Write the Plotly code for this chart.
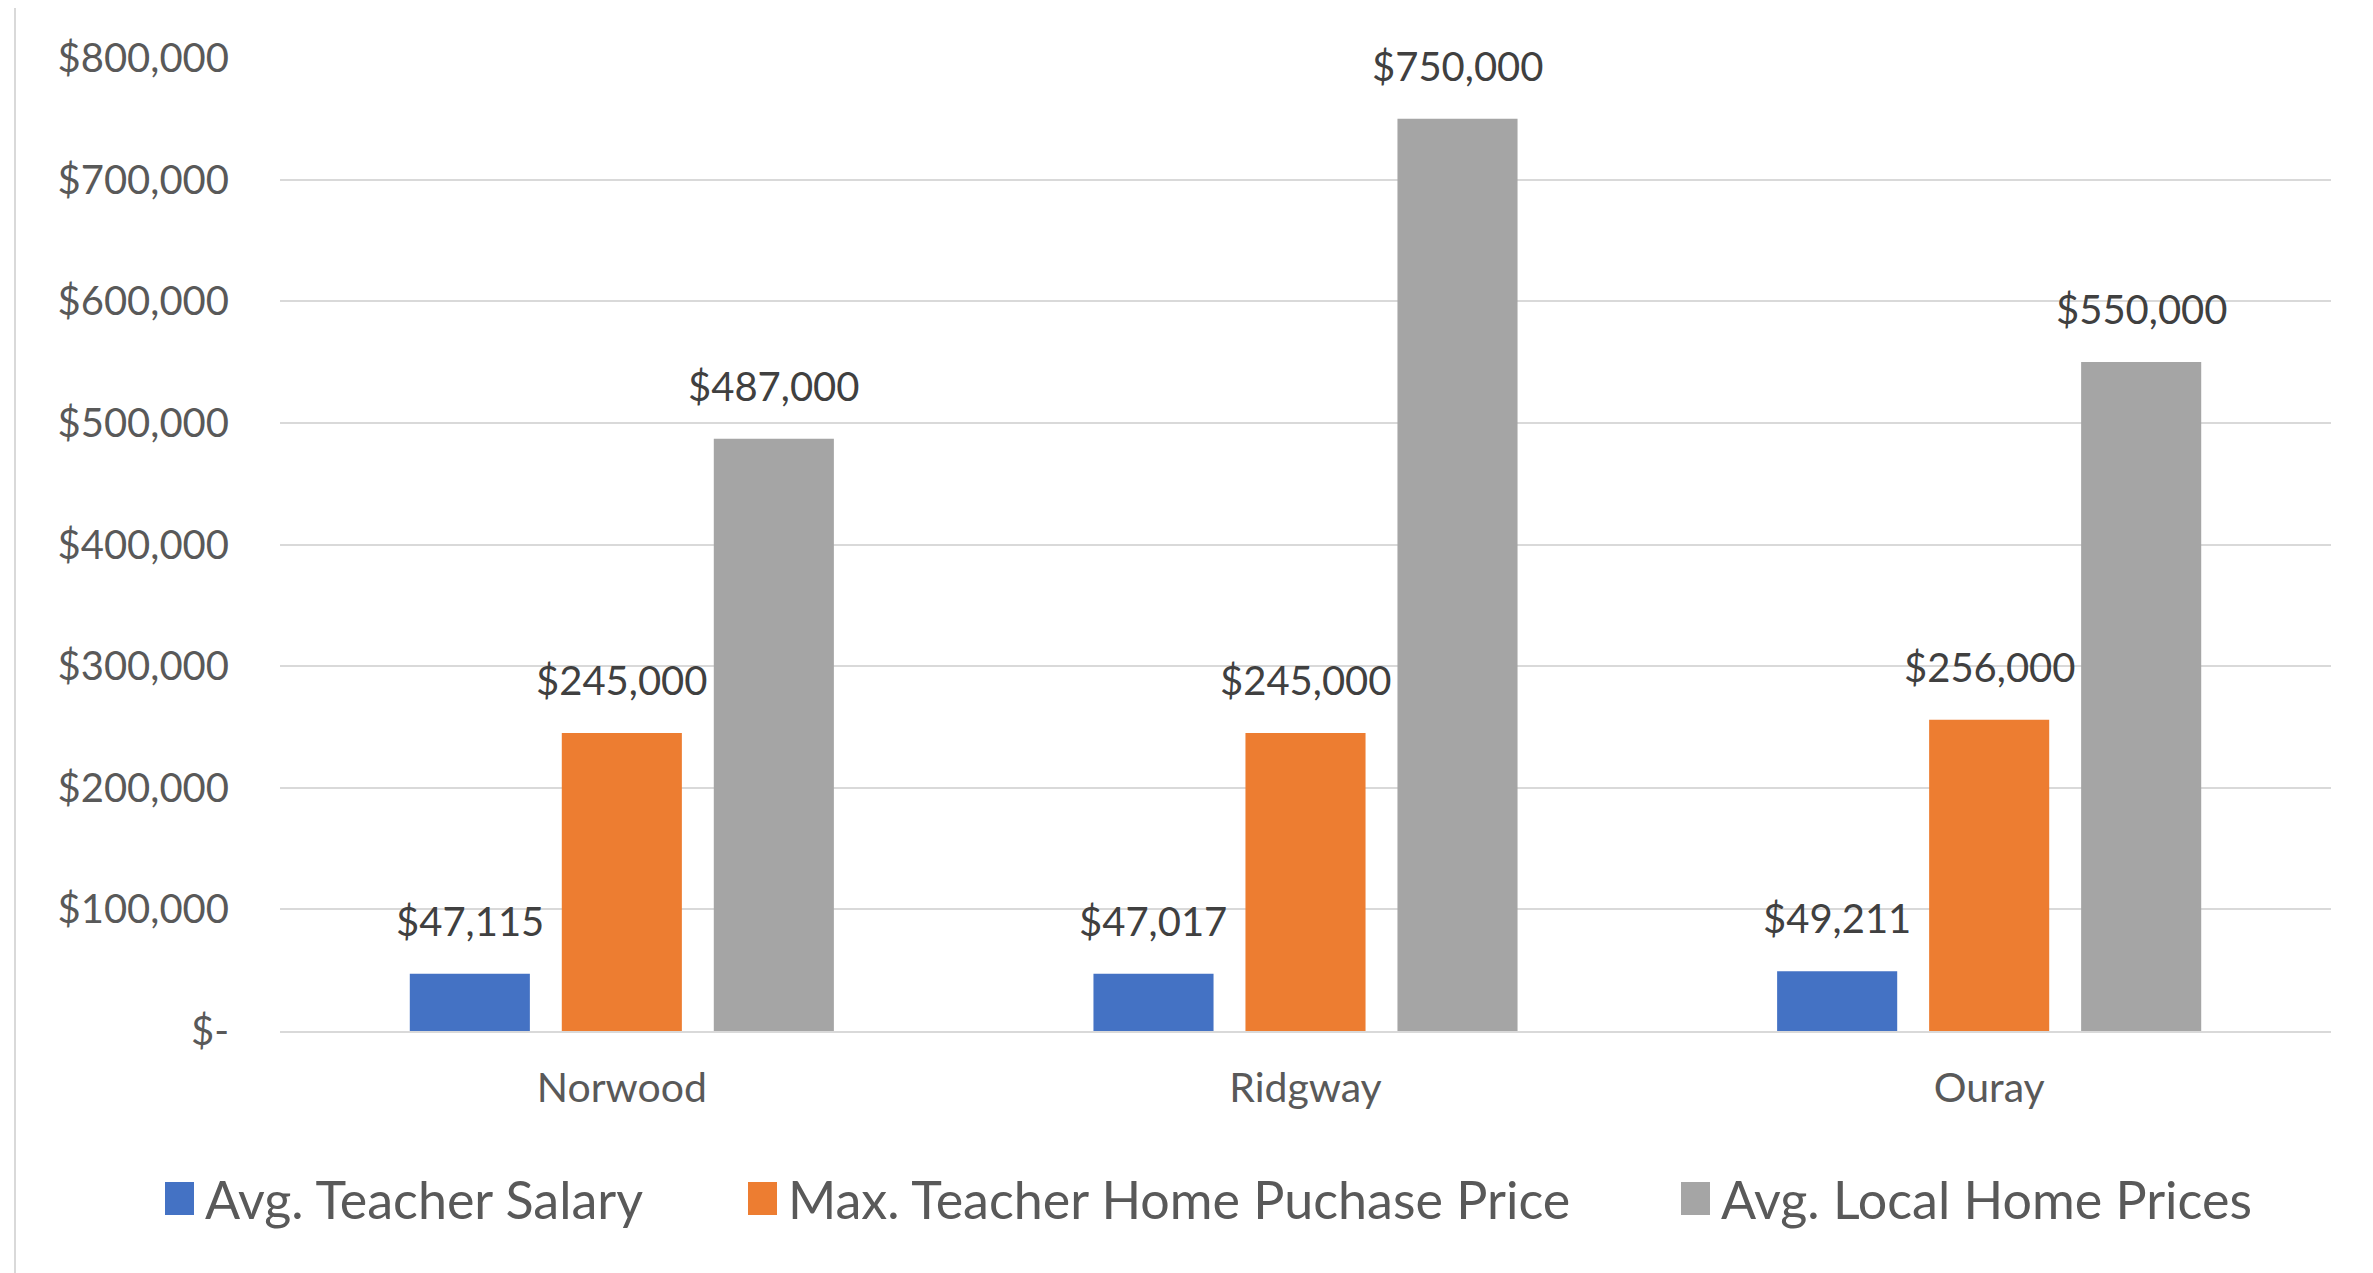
import plotly.graph_objects as go

# ---- data ----
categories = ["Norwood", "Ridgway", "Ouray"]
series_names = ["Avg. Teacher Salary", "Max. Teacher Home Puchase Price", "Avg. Local Home Prices"]
avg_teacher_salary = [47115, 47017, 49211]
max_home_purchase = [245000, 245000, 256000]
avg_local_home = [487000, 750000, 550000]
tick_values = [0, 100000, 200000, 300000, 400000, 500000, 600000, 700000, 800000]
tick_labels = ["$-", "$100,000", "$200,000", "$300,000", "$400,000",
               "$500,000", "$600,000", "$700,000", "$800,000"]
colors = ["#4472C4", "#ED7D31", "#A5A5A5"]

series_values = [avg_teacher_salary, max_home_purchase, avg_local_home]

# ---- layout geometry (page pixels; the page body has an 8px margin) ----
OFF = 8
W, H = 2373 - OFF, 1273 - OFF
L, R, T, B = 280 - OFF, 42, 58 - OFF, 242
PW, PH = W - L - R, H - T - B
BARGAP = 0.333
BARGROUPGAP = 0.21
FONT = "Lato, 'Open Sans', sans-serif"
TXT = "#595959"
LBL = "#404040"


def px_x(px):
    return (px - OFF - L) / PW


def px_y(py):
    return (H - B - (py - OFF)) / PH


fig = go.Figure()
for name, vals, col in zip(series_names, series_values, colors):
    fig.add_trace(go.Bar(
        x=categories, y=vals, name=name,
        marker=dict(color=col, line=dict(width=0)),
        showlegend=False, hoverinfo="skip",
    ))

# data labels above bars
slot_px = PW / len(categories) * (1 - BARGAP) / len(series_names)
annotations = []
for i, vals in enumerate(series_values):
    for cat, v in zip(categories, vals):
        annotations.append(dict(
            x=cat, y=v, xref="x", yref="y", text=f"${v:,}",
            showarrow=False, xshift=(i - 1) * slot_px, yshift=53,
            yanchor="middle", xanchor="center",
            font=dict(family=FONT, size=40, color=LBL),
        ))

# custom legend
shapes = []
legend_swatch_left = [165, 748, 1681]
for name, col, sx in zip(series_names, colors, legend_swatch_left):
    shapes.append(dict(
        type="rect", xref="paper", yref="paper",
        x0=px_x(sx), x1=px_x(sx + 29), y0=px_y(1215), y1=px_y(1182),
        fillcolor=col, line=dict(width=0),
    ))
    annotations.append(dict(
        x=px_x(sx + 38), y=px_y(1199), xref="paper", yref="paper",
        text=name, showarrow=False, xanchor="left", yanchor="middle",
        font=dict(family=FONT, size=52, color=TXT),
    ))

# left border line of chart area
shapes.append(dict(
    type="line", xref="paper", yref="paper",
    x0=px_x(15), x1=px_x(15), y0=px_y(8), y1=px_y(1273),
    line=dict(color="#D9D9D9", width=2),
))

fig.update_layout(
    width=W, height=H,
    margin=dict(l=L, r=R, t=T, b=B, autoexpand=False),
    paper_bgcolor="white", plot_bgcolor="white",
    barmode="group", bargap=BARGAP, bargroupgap=BARGROUPGAP,
    annotations=annotations, shapes=shapes,
    font=dict(family=FONT, color=TXT),
    xaxis=dict(
        showgrid=False, showline=True, linecolor="#D9D9D9", linewidth=2,
        tickfont=dict(family=FONT, size=41, color=TXT),
        ticks="", ticklabelstandoff=20,
    ),
    yaxis=dict(
        range=[0, 800000], tickvals=tick_values, ticktext=tick_labels,
        showgrid=True, gridcolor="#D9D9D9", gridwidth=2,
        zeroline=False, showline=False,
        tickfont=dict(family=FONT, size=40, color=TXT),
        ticks="", ticklabelstandoff=50,
    ),
)

fig.write_html("out.html")
